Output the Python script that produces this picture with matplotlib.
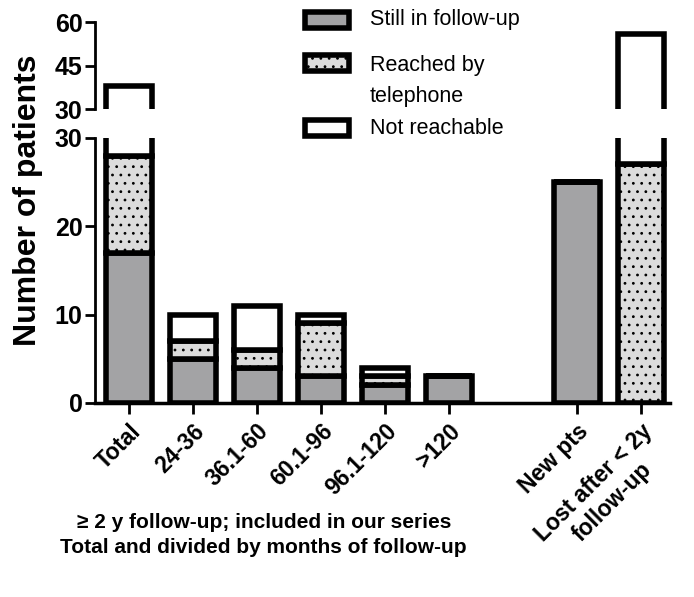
import numpy as np
import matplotlib.pyplot as plt
from matplotlib.patches import Rectangle

plt.rcParams['font.family'] = ['Liberation Sans', 'DejaVu Sans']
plt.rcParams['hatch.linewidth'] = 0.8

# data
groups = ['Total', '24-36', '36.1-60', '60.1-96', '96.1-120', '>120',
          'New pts', 'Lost after < 2y\nfollow-up']
pos = [0, 1, 2, 3, 4, 5, 7, 8]
still = [17, 5, 4, 3, 2, 3, 25, 0]
reached = [11, 2, 2, 6, 1, 0, 0, 27]
not_reach = [10, 3, 5, 1, 1, 0, 0, 29]
leg_labels = ['Still in follow-up', 'Reached by\ntelephone', 'Not reachable']

c_still = '#a3a3a5'
c_reach = '#dcdcdc'
c_not = 'white'
lw = 4
w = 0.73
series = [(still, c_still, None), (reached, c_reach, '..'), (not_reach, c_not, None)]

fig = plt.figure(figsize=(6.94, 5.97), dpi=100)
ax = fig.add_axes([0.137, 0.325, 0.828, 0.444])
ax2 = fig.add_axes([0.137, 0.817, 0.828, 0.146])

for a in (ax, ax2):
    bottom = np.zeros(len(pos))
    for vals, col, hatch in series:
        v = np.array(vals, dtype=float)
        a.bar(pos, v, w, bottom=bottom, color=col, edgecolor='black',
              linewidth=lw, hatch=hatch, zorder=2)
        bottom += v
    a.set_xlim(-0.53, 8.45)
    for s in ['top', 'right']:
        a.spines[s].set_visible(False)
    a.spines['left'].set_linewidth(2)
    a.tick_params(axis='y', width=2, length=7, labelsize=18, pad=2)

ax.set_ylim(0, 30)
ax.set_yticks([0, 10, 20, 30])
ax.set_yticklabels(['0', '10', '20', '30'], fontweight='bold')
ax.spines['bottom'].set_linewidth(2.5)
ax.set_xticks(pos)
ax.set_xticklabels(groups, rotation=45, ha='right', rotation_mode='anchor',
                   fontsize=16.5, fontweight='bold')
last = ax.get_xticklabels()[-1]
last.set_multialignment('center')
ax.tick_params(axis='x', width=2, length=8, pad=4)

ax2.set_ylim(30, 60)
ax2.set_yticks([30, 45, 60])
ax2.set_yticklabels(['30', '45', '60'], fontweight='bold')
ax2.spines['bottom'].set_visible(False)
ax2.set_xticks([])

fig.text(0.04, 0.665, 'Number of patients', rotation=90, ha='center',
         va='center', fontsize=23, fontweight='bold')

fig.text(0.38, 0.104, '\u2265 2 y follow-up; included in our series\n'
         'Total and divided by months of follow-up', ha='center',
         va='center', fontsize=15, fontweight='bold', linespacing=1.45)

# legend drawn by hand
W, H = 694.0, 597.0
box_y = [20, 63, 128]
text_y = [19, 55, 128]
for (vals, col, hatch), by, ty, lab in zip(series, box_y, text_y, leg_labels):
    fig.add_artist(Rectangle((305 / W, 1 - (by + 8) / H), 44 / W, 16 / H,
                             transform=fig.transFigure, facecolor=col,
                             edgecolor='black', linewidth=4, hatch=hatch))
    fig.text(370 / W, 1 - ty / H, lab, ha='left',
             va='top' if '\n' in lab else 'center',
             fontsize=15.5, linespacing=1.65, transform=fig.transFigure)

fig.savefig('out.png', dpi=100)
